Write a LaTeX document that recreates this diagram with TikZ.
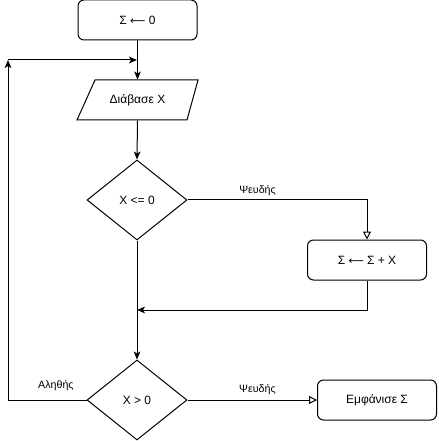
\documentclass[tikz,border=0pt]{standalone}
\usepackage{fontspec}
\setmainfont{Liberation Sans}
\newfontfamily\arrowfont{DejaVu Sans}
\usetikzlibrary{shapes.geometric,arrows.meta}
\newcommand{\larrow}{{\arrowfont\fontsize{8}{10}\selectfont ⟵}}
\begin{document}
\begin{tikzpicture}[x=0.75pt,y=-0.75pt,
  font=\fontsize{9}{11}\selectfont, line width=0.75pt,
  box/.style={draw, rounded corners=4.5pt, minimum width=89.25pt, minimum height=30pt, inner sep=0pt},
  decision/.style={draw, diamond, aspect=1.25, minimum width=75pt, minimum height=60pt, inner sep=0pt},
  plain/.style={minimum width=82pt, minimum height=30pt, inner sep=0pt},
  lab/.style={font=\fontsize{8}{10}\selectfont, inner sep=0pt},
  arr/.style={-{Stealth[length=6pt,width=5pt,inset=1.5pt]}},
  oarr/.style={-{Triangle[open,length=6pt,width=6pt]}}]
\useasboundingbox (0,0) rectangle (438,441);

\node[box] (s) at (137.5,20) {Σ \larrow{} 0};
\node[plain] (p) at (137.5,100) {Διάβασε X};
\draw (95,80) -- (198,80) -- (187,120) -- (77,120) -- cycle;
\node[decision] (d1) at (137,200) {X <= 0};
\node[box] (b2) at (367,260) {Σ \larrow{} Σ + X};
\node[decision] (d2) at (137,400) {X > 0};
\node[box] (b3) at (377,400) {Εμφάνισε Σ};

\coordinate (j1) at (137,60);
\coordinate (c1) at (8,60);
\coordinate (j2) at (137,310);

\draw[arr] (s.south) -- (p.north);
\draw[arr] (p.south) -- (d1.north);
\draw[oarr] (d1.east) -- node[lab, pos=0.39, yshift=7pt] {Ψευδής} (b2.north |- d1.east) -- (b2.north);
\draw[arr] (b2.south) |- (j2);
\draw[arr] (d1.south) -- (d2.north);
\draw[arr] (d2.west) -- node[lab, pos=0.39, yshift=10.5pt] {Αληθής} (c1 |- d2.west) -- (c1);
\draw[arr] (c1) -- (j1);
\draw[oarr] (d2.east) -- node[lab, pos=0.54, yshift=7.5pt] {Ψευδής} (b3.west);
\end{tikzpicture}
\end{document}
